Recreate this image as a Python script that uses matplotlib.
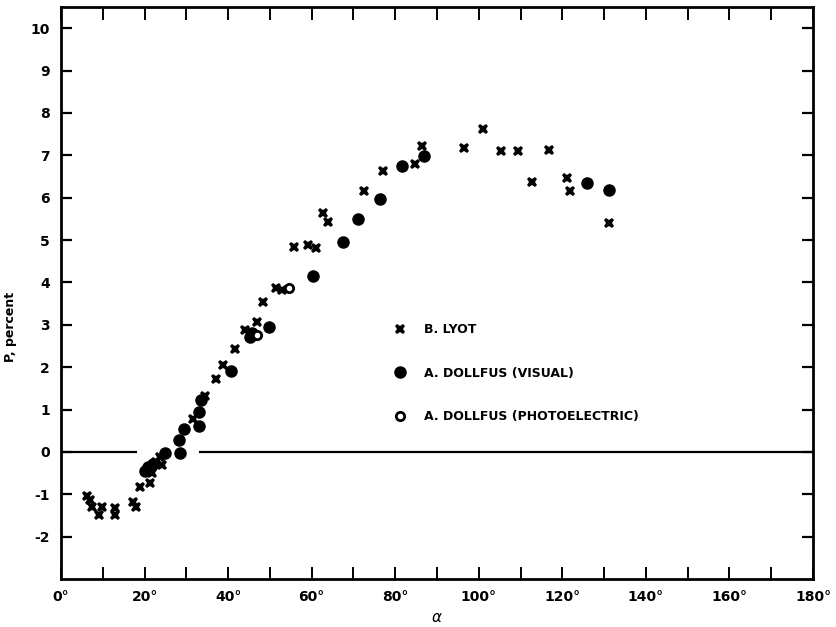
import matplotlib
matplotlib.use("Agg")
import matplotlib.pyplot as plt
from matplotlib.lines import Line2D

# B. Lyot (crosses)
lyot_alpha = [6.1, 6.9, 7.3, 9.1, 9.8, 12.9, 12.9, 17.3, 17.9, 18.9, 21.3, 21.8,
              22.8, 23.6, 24.2, 31.7, 34.4, 37.2, 38.7, 41.6, 44.0, 47.0, 48.4,
              51.4, 52.8, 55.7, 59.2, 61.0, 62.6, 63.9, 72.5, 77.0, 84.8, 86.3,
              96.5, 100.9, 105.4, 109.3, 112.8, 116.8, 121.1, 121.9, 131.1]
lyot_p = [-1.03, -1.13, -1.31, -1.48, -1.31, -1.32, -1.48, -1.18, -1.30, -0.82,
          -0.73, -0.50, -0.25, -0.12, -0.32, 0.77, 1.32, 1.72, 2.05, 2.42, 2.87,
          3.07, 3.54, 3.87, 3.81, 4.83, 4.89, 4.82, 5.65, 5.42, 6.16, 6.62, 6.79,
          7.22, 7.18, 7.63, 7.11, 7.09, 6.38, 7.12, 6.46, 6.16, 5.40]

# A. Dollfus, visual (filled dots)
visual_alpha = [20.1, 20.8, 22.0, 24.9, 28.3, 28.5, 29.4, 33.1, 33.1, 33.4, 40.7,
                45.2, 45.8, 49.8, 60.4, 67.5, 71.2, 76.3, 81.7, 86.8, 125.8, 131.2]
visual_p = [-0.45, -0.35, -0.28, -0.03, 0.27, -0.02, 0.54, 0.60, 0.95, 1.22, 1.91,
            2.72, 2.80, 2.95, 4.14, 4.95, 5.50, 5.97, 6.74, 6.99, 6.34, 6.18]

# A. Dollfus, photoelectric (open circles)
photo_alpha = [47.0, 54.6]
photo_p = [2.75, 3.87]

# zero line is broken where the points cross it
zero_segments = [(0, 18.2), (33.0, 180)]

x_ticks = list(range(0, 181, 10))
x_labels = [f"{t}°" if t % 20 == 0 else "" for t in x_ticks]
y_ticks = list(range(-2, 11))

plt.rcParams["font.family"] = ["DejaVu Sans"]

fig = plt.figure(figsize=(8.36, 6.27), dpi=100)
ax = fig.add_axes([0.073, 0.0766, 0.8995, 0.9122])

for x0, x1 in zero_segments:
    ax.hlines(0, x0, x1, color="black", lw=1.6)

ax.plot(lyot_alpha, lyot_p, ls="none", marker="X", ms=7.5, color="black", mew=0)
ax.plot(visual_alpha, visual_p, ls="none", marker="o", ms=8, color="black")
ax.plot(photo_alpha, photo_p, ls="none", marker="o", ms=6, mfc="white",
        mec="black", mew=2)

ax.set_xlim(0, 180)
ax.set_ylim(-3, 10.5)
ax.set_xticks(x_ticks)
ax.set_xticklabels(x_labels, fontweight="bold", fontsize=10)
ax.set_yticks(y_ticks)
ax.set_yticklabels([str(t) for t in y_ticks], fontweight="bold", fontsize=10)
ax.tick_params(axis="x", direction="in", length=9, width=1.4, top=True, pad=8)
ax.tick_params(axis="y", direction="in", length=8, width=1.6, right=True, pad=8)
for s in ax.spines.values():
    s.set_linewidth(2)

ax.set_xlabel("α", fontsize=11, fontstyle="italic")
ax.xaxis.set_label_coords(0.5, -0.055)
ax.set_ylabel("P, percent", fontsize=9, fontweight="bold")
ax.yaxis.set_label_coords(-0.058, 0.44)

handles = [
    Line2D([], [], ls="none", marker="X", ms=7.5, color="black", mew=0),
    Line2D([], [], ls="none", marker="o", ms=8, color="black"),
    Line2D([], [], ls="none", marker="o", ms=6, mfc="white", mec="black", mew=2),
]
labels = ["B. LYOT", "A. DOLLFUS (VISUAL)", "A. DOLLFUS (PHOTOELECTRIC)"]
ax.legend(handles, labels, frameon=False, loc="upper left",
          bbox_to_anchor=(0.428, 0.467), labelspacing=2.44, handlelength=1.0,
          handletextpad=1.4, prop={"weight": "bold", "size": 9})

fig.savefig("out.png", dpi=100)
